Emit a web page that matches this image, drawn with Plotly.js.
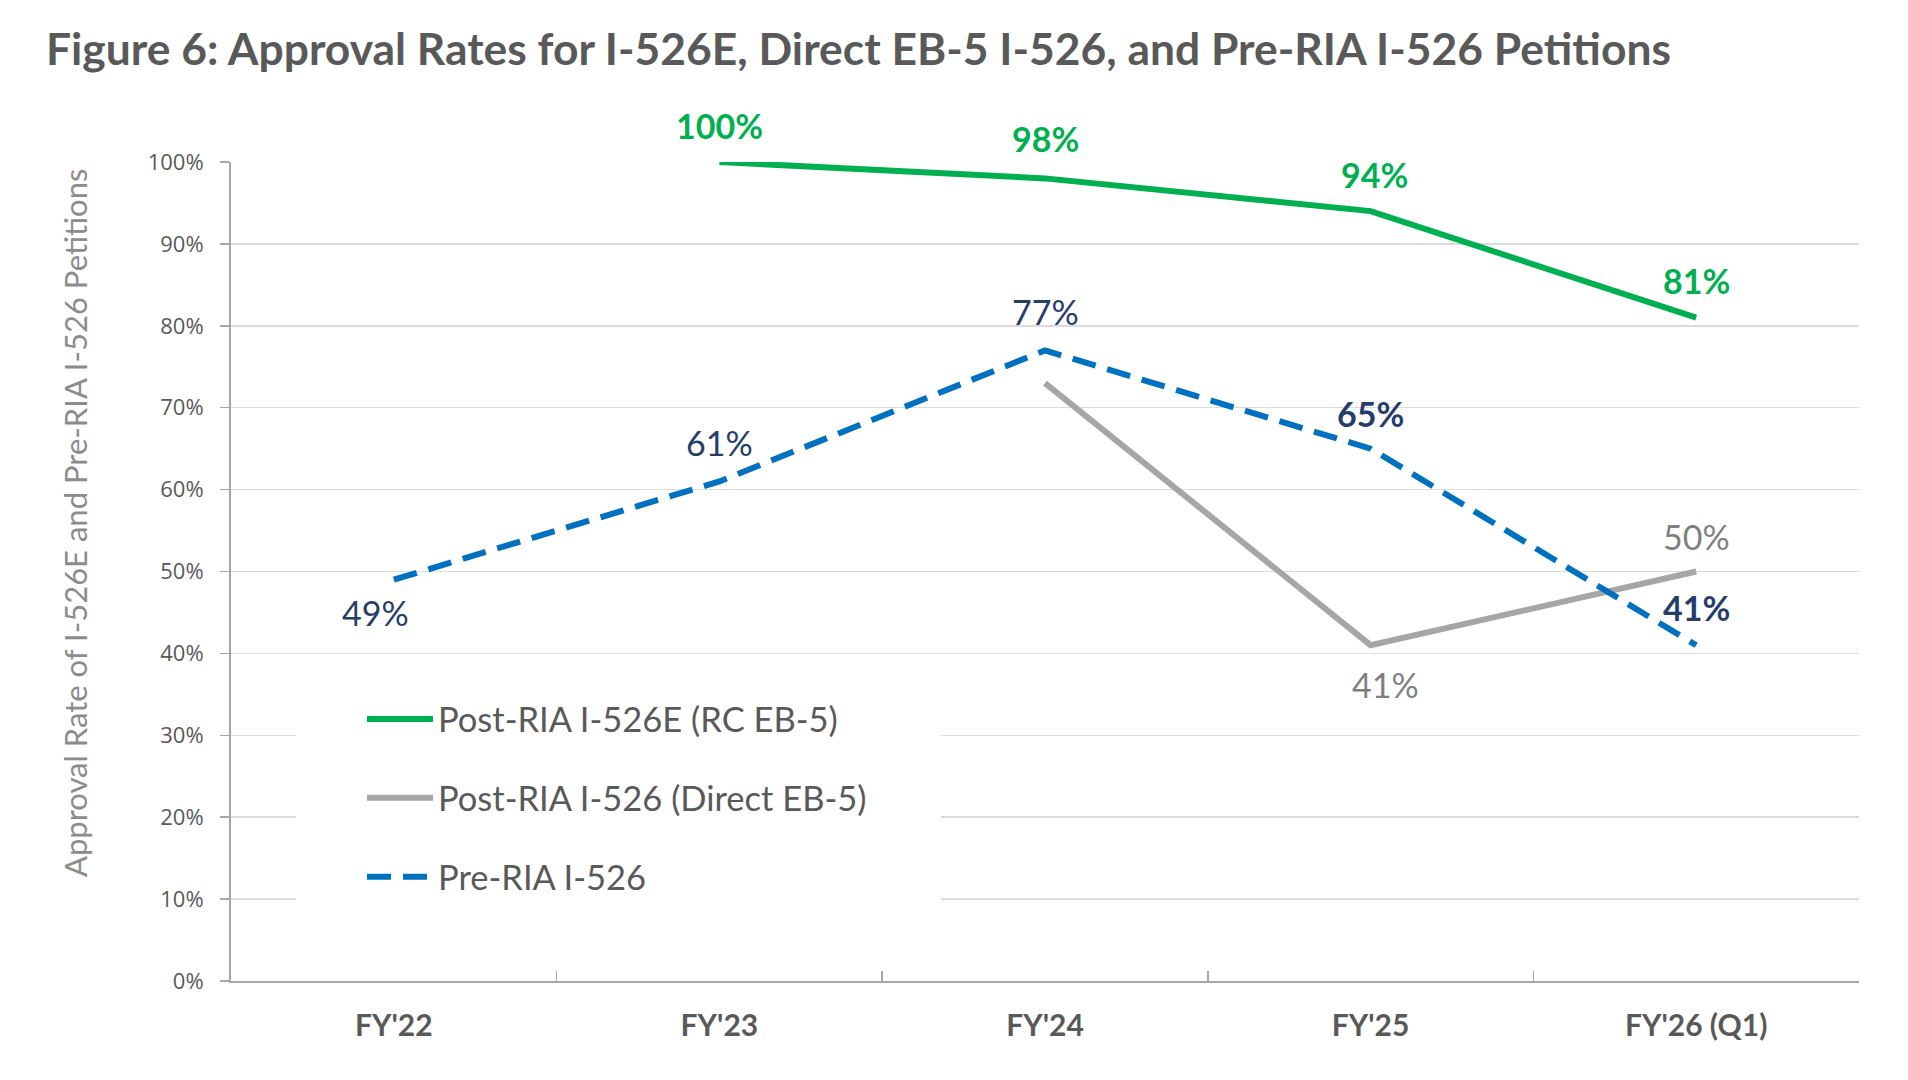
<!DOCTYPE html>
<html><head><meta charset="utf-8">
<script src="https://cdn.plot.ly/plotly-3.0.1.min.js"></script>
<style>html,body{margin:0;padding:0;background:#fff;}#chart{width:1908px;height:1080px;}</style>
</head><body><div id="chart"></div>
<script>
// ---- data ----
const categories = ["FY'22", "FY'23", "FY'24", "FY'25", "FY'26 (Q1)"];
const postRiaRC = [null, 1.00, 0.98, 0.94, 0.81];
const postRiaDirect = [null, null, 0.73, 0.41, 0.50];
const preRia = [0.49, 0.61, 0.77, 0.65, 0.41];
const seriesNames = ["Post-RIA I-526E (RC EB-5)", "Post-RIA I-526 (Direct EB-5)", "Pre-RIA I-526"];
const yTitle = "Approval Rate of I-526E and Pre-RIA I-526 Petitions";
const chartTitle = "Figure 6: Approval Rates for I-526E, Direct EB-5 I-526, and Pre-RIA I-526 Petitions";
const directLabelled = [false, false, false, true, true];

// ---- styles ----
const GREEN = '#00b050', GRAY = '#a6a6a6', BLUE = '#0070c0';
const NAVY = '#263d6b', LABELGRAY = '#7f7f7f', TXT = '#595959';
const FONT = 'Lato, "Open Sans", sans-serif';
// label offsets (px) per point: [xshift, yshift, bold]
const rcLabelStyle = [null, [0, 37, true], [0, 40, true], [4, 37, true], [0, 37, true]];
const directLabelStyle = [null, null, null, [15, -39, false], [0, 35, false]];
const preLabelStyle = [[-18, -33, false], [0, 39, false], [0, 39, false], [0, 35, true], [0, 38, true]];

const pct = v => Math.round(v * 100) + '%';

function labels(values, styles, color, mask) {
  const out = [];
  values.forEach((v, i) => {
    if (v === null || !styles[i] || (mask && !mask[i])) return;
    const [xs, ys, bold] = styles[i];
    out.push({
      x: categories[i], y: v, xref: 'x', yref: 'y',
      text: pct(v), showarrow: false, xanchor: 'center', yanchor: 'middle',
      xshift: xs, yshift: ys,
      font: {family: FONT, size: 34, color: color, weight: bold ? 'bold' : 'normal'}
    });
  });
  return out;
}

const traces = [
  {x: categories, y: postRiaRC, name: seriesNames[0], type: 'scatter', mode: 'lines',
   line: {color: GREEN, width: 6}, legendgroup: 'a', connectgaps: false},
  {x: categories, y: postRiaDirect, name: seriesNames[1], type: 'scatter', mode: 'lines',
   line: {color: GRAY, width: 6}, legendgroup: 'b'},
  {x: categories, y: preRia, name: seriesNames[2], type: 'scatter', mode: 'lines',
   line: {color: BLUE, width: 6, dash: '24px,12px'}, legendgroup: 'c'}
];

const annotations = []
  .concat(labels(postRiaRC, rcLabelStyle, GREEN))
  .concat(labels(postRiaDirect, directLabelStyle, LABELGRAY, directLabelled))
  .concat(labels(preRia, preLabelStyle, NAVY));

// y-axis title, placed as in the reference (centred above the plot's middle)
annotations.push({
  text: yTitle, xref: 'paper', yref: 'paper',
  x: (75 - 231) / 1628, y: (981 - 523) / 819, xanchor: 'center', yanchor: 'middle',
  textangle: -90, showarrow: false,
  font: {family: FONT, size: 31, color: '#8c8c8c'}
});

const layout = {
  width: 1908, height: 1080,
  margin: {l: 231, r: 49, t: 162, b: 99},
  paper_bgcolor: '#ffffff', plot_bgcolor: '#ffffff',
  font: {family: FONT, color: TXT},
  title: {
    text: chartTitle, xref: 'container', yref: 'container',
    x: 46 / 1908, xanchor: 'left', y: 1 - 49 / 1080, yanchor: 'middle',
    font: {family: FONT, size: 44.4, color: TXT, weight: 'bold'}
  },
  xaxis: {
    type: 'category', range: [-0.5, 4.5], tickson: 'boundaries',
    ticks: 'inside', ticklen: 10, tickcolor: '#a6a6a6', tickwidth: 1.5,
    showline: true, linecolor: '#a6a6a6', linewidth: 2,
    showgrid: false, zeroline: false, fixedrange: true,
    tickfont: {family: FONT, size: 30, color: TXT, weight: 'bold'},
    ticklabelstandoff: 17
  },
  yaxis: {
    range: [0, 1], dtick: 0.1, tickformat: '.0%',
    showgrid: true, gridcolor: '#dcdcdc', gridwidth: 1.5,
    showline: true, linecolor: '#a6a6a6', linewidth: 2,
    ticks: 'outside', ticklen: 9, tickcolor: '#a6a6a6', tickwidth: 1.5,
    zeroline: false, fixedrange: true,
    tickfont: {family: '"Open Sans", sans-serif', size: 22, color: TXT},
    ticklabelstandoff: 12
  },
  showlegend: true,
  legend: {
    x: (362 - 231) / 1628, xanchor: 'left', y: (981 - 690) / 819, yanchor: 'top',
    bgcolor: 'rgba(255,255,255,0)', borderwidth: 0,
    font: {family: FONT, size: 34.5, color: TXT},
    traceorder: 'grouped', tracegroupgap: 31, itemwidth: 66
  },
  shapes: [{
    type: 'rect', xref: 'paper', yref: 'paper', layer: 'above',
    x0: 65 / 1628, x1: 710 / 1628, y0: 56 / 819, y1: 300 / 819,
    fillcolor: '#ffffff', line: {width: 0}
  }],
  annotations: annotations
};

Plotly.newPlot('chart', traces, layout, {displayModeBar: false, staticPlot: true});
</script>
</body></html>
